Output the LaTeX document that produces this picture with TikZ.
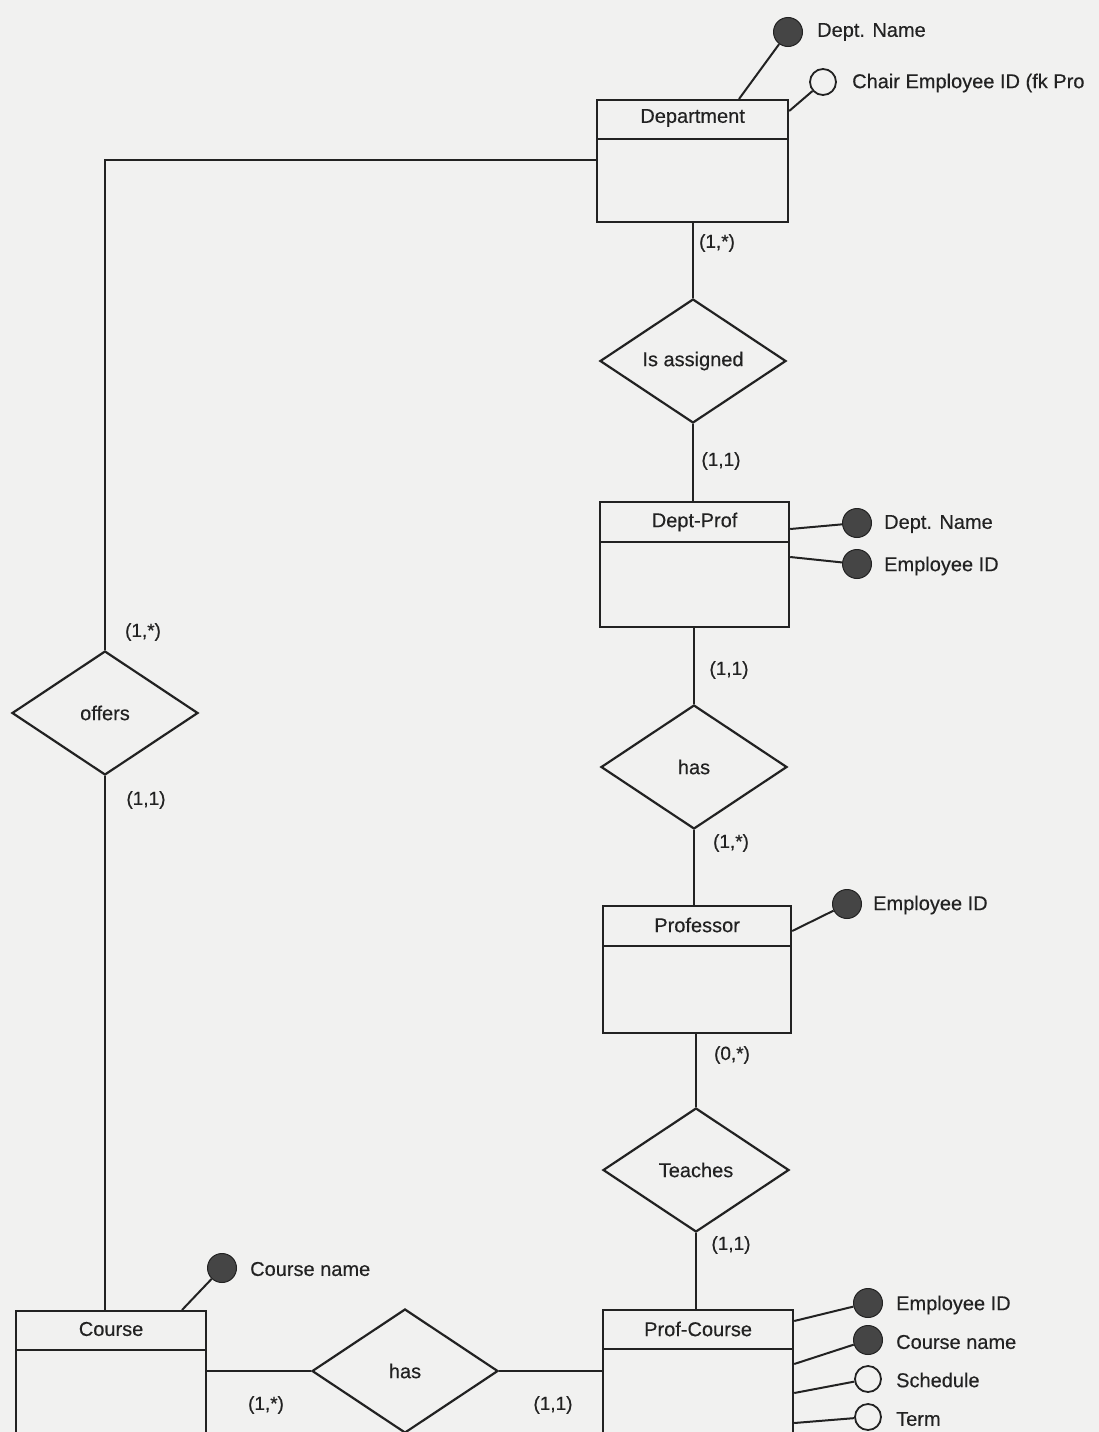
\documentclass[tikz,border=0pt]{standalone}
\usepackage{fontspec}
\setmainfont{Liberation Sans}[FakeBold=0.35]
\usetikzlibrary{shapes.geometric}
\definecolor{paper}{HTML}{F1F1F0}
\definecolor{ink}{HTML}{222222}
\definecolor{dot}{HTML}{454545}
\begin{document}
\begin{tikzpicture}[x=1pt,y=-1pt,
  every node/.style={text=ink, font=\fontsize{20}{22}\selectfont},
  entity/.style={draw=ink, line width=2.2pt, rectangle, anchor=north west, inner sep=0pt},
  rel/.style={draw=ink, line width=2.2pt, diamond, aspect=1.5, inner sep=0pt,
              minimum width=186pt, minimum height=124pt},
  keyattr/.style={draw=ink, fill=dot, circle, line width=1pt, inner sep=0pt, minimum size=29pt},
  attr/.style={draw=ink, fill=paper, circle, line width=1.8pt, inner sep=0pt, minimum size=26pt},
  lbl/.style={anchor=west, inner sep=0pt},
  card/.style={inner sep=0pt, font=\fontsize{19}{21}\selectfont},
  conn/.style={draw=ink, line width=2pt},
]
% page
\useasboundingbox (0,0) rectangle (1099,1432);
\fill[paper] (0,0) rectangle (1099,1432);
\clip (0,0) rectangle (1099,1432);

% ---------- entities ----------
\node[entity, minimum width=191pt, minimum height=122pt] (dept) at (596,99) {};
\node (deptT) at ([yshift=-19pt]dept.north) {Department};
\draw[conn] ([yshift=-40pt]dept.north west) -- ([yshift=-40pt]dept.north east);

\node[entity, minimum width=189pt, minimum height=125pt] (deptprof) at (599,501) {};
\node (deptprofT) at ([yshift=-21pt]deptprof.north) {Dept-Prof};
\draw[conn] ([yshift=-41pt]deptprof.north west) -- ([yshift=-41pt]deptprof.north east);

\node[entity, minimum width=188pt, minimum height=127pt] (prof) at (602,905) {};
\node (profT) at ([yshift=-20pt]prof.north) {Professor};
\draw[conn] ([yshift=-41pt]prof.north west) -- ([yshift=-41pt]prof.north east);

\node[entity, minimum width=190pt, minimum height=200pt] (profcourse) at (602,1309) {};
\node (profcourseT) at ([yshift=-20pt]profcourse.north) {Prof-Course};
\draw[conn] ([yshift=-40pt]profcourse.north west) -- ([yshift=-40pt]profcourse.north east);

\node[entity, minimum width=190pt, minimum height=200pt] (course) at (15,1310) {};
\node (courseT) at ([yshift=-19pt]course.north) {Course};
\draw[conn] ([yshift=-40pt]course.north west) -- ([yshift=-40pt]course.north east);

% ---------- relationships ----------
\node[rel] (assigned) at (693,361) {Is assigned};
\node[rel] (hasdp) at (694,767) {has};
\node[rel] (teaches) at (696,1170) {Teaches};
\node[rel] (offers) at (105,713) {offers};
\node[rel] (hascourse) at (405,1371) {has};

% ---------- connectors ----------
\draw[conn] (assigned.north) -- (assigned.north |- dept.south);
\draw[conn] (assigned.south) -- (assigned.south |- deptprof.north);
\draw[conn] (hasdp.north) -- (hasdp.north |- deptprof.south);
\draw[conn] (hasdp.south) -- (hasdp.south |- prof.north);
\draw[conn] (teaches.north) -- (teaches.north |- prof.south);
\draw[conn] (teaches.south) -- (teaches.south |- profcourse.north);
\draw[conn] ([yshift=-61pt]dept.north west) -| (offers.north);
\draw[conn] (offers.south) -- (offers.south |- course.north);
\draw[conn] (hascourse.west) -- (hascourse.west -| course.east);
\draw[conn] (hascourse.east) -- (hascourse.east -| profcourse.west);

% ---------- cardinalities ----------
\node[card] (c1) at (717,243) {(1,*)};
\node[card] (c2) at (721,461) {(1,1)};
\node[card] (c3) at (729,670) {(1,1)};
\node[card] (c4) at (731,843) {(1,*)};
\node[card] (c5) at (732,1055) {(0,*)};
\node[card] (c6) at (731,1245) {(1,1)};
\node[card] (c7) at (143,632) {(1,*)};
\node[card] (c8) at (146,800) {(1,1)};
\node[card] (c9) at (266,1405) {(1,*)};
\node[card] (c10) at (553,1405) {(1,1)};

% ---------- attributes ----------
\node[keyattr] (deptname) at (788,32) {};
\draw[conn] ([xshift=143pt]dept.north west) -- (deptname);
\node[lbl] (deptnameL) at (817,32) {Dept. Name};
\node[attr] (chair) at (823,82) {};
\draw[conn] ([yshift=-12pt]dept.north east) -- (chair);
\node[lbl] (chairL) at (852,83) {Chair Employee ID (fk Pro};

\node[keyattr] (dpname) at (857,523) {};
\draw[conn] ([yshift=-28pt]deptprof.north east) -- (dpname);
\node[lbl] (dpnameL) at (884,524) {Dept. Name};
\node[keyattr] (dpemp) at (857,564) {};
\draw[conn] ([yshift=-56pt]deptprof.north east) -- (dpemp);
\node[lbl] (dpempL) at (884,566) {Employee ID};

\node[keyattr] (profemp) at (847,904) {};
\draw[conn] ([yshift=-26pt]prof.north east) -- (profemp);
\node[lbl] (profempL) at (873,905) {Employee ID};

\node[keyattr] (pcemp) at (868,1303) {};
\draw[conn] ([yshift=-12pt]profcourse.north east) -- (pcemp);
\node[lbl] (pcempL) at (896,1305) {Employee ID};
\node[keyattr] (pccourse) at (868,1340) {};
\draw[conn] ([yshift=-55pt]profcourse.north east) -- (pccourse);
\node[lbl] (pccourseL) at (896,1342) {Course name};
\node[attr] (pcsched) at (868,1379) {};
\draw[conn] ([yshift=-84pt]profcourse.north east) -- (pcsched);
\node[lbl] (pcschedL) at (896,1380) {Schedule};
\node[attr] (pcterm) at (868,1417) {};
\draw[conn] ([yshift=-114pt]profcourse.north east) -- (pcterm);
\node[lbl] (pctermL) at (896,1419) {Term};

\node[keyattr] (cname) at (222,1268) {};
\draw[conn] ([xshift=167pt]course.north west) -- (cname);
\node[lbl] (cnameL) at (250,1269) {Course name};
\end{tikzpicture}
\end{document}
